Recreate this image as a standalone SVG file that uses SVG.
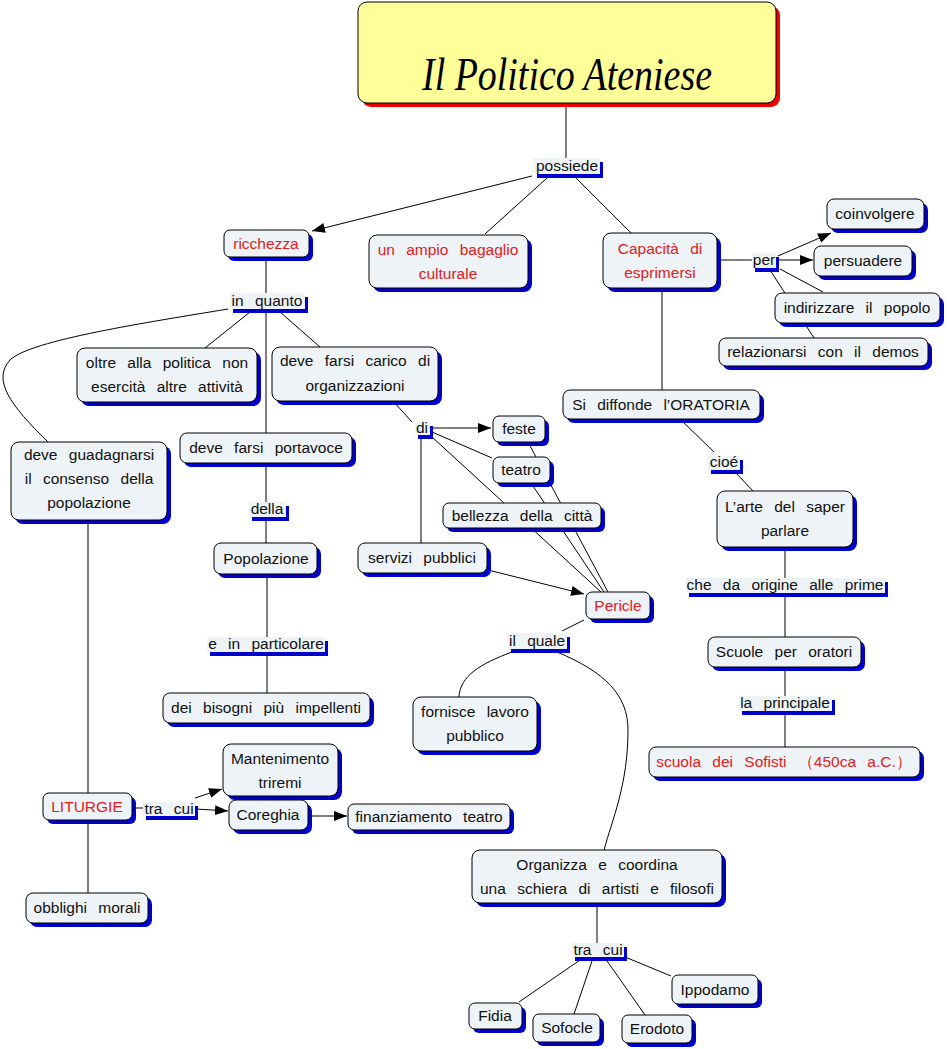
<svg xmlns="http://www.w3.org/2000/svg" width="947" height="1049" viewBox="0 0 947 1049">
<defs>
<marker id="arr" markerWidth="14" markerHeight="10" refX="13" refY="5" orient="auto" markerUnits="userSpaceOnUse">
<path d="M0,0 L13,5 L0,10 Z" fill="#000"/>
</marker>
<style>
.sh{fill:#0000cc}
.bx{fill:#edf3f6;stroke:#000;stroke-width:1}
.lb{fill:#eef3f6}
.t{font-family:"Liberation Sans",Arial,sans-serif;font-size:15.5px;word-spacing:7px;text-anchor:middle;fill:#111}
.r{fill:#e02020}
.c{fill:none;stroke:#000;stroke-width:1}
.a{marker-end:url(#arr)}
</style>
</defs>
<rect width="947" height="1049" fill="#fff"/>

<g id="connectors">
<path class="c" d="M566,103 V158"/>
<path class="c a" d="M532,176 L312,231"/>
<path class="c" d="M547,178 L485,234"/>
<path class="c" d="M576,178 L631,233"/>
<path class="c" d="M266,257 V293"/>
<path class="c" d="M250,312 L205,348"/>
<path class="c" d="M266,312 V433"/>
<path class="c" d="M280,312 L320,347"/>
<path class="c" d="M228,309 C150,322 30,340 10,360 C-8,380 10,405 48,442"/>
<path class="c" d="M393,401 L412,422"/>
<path class="c a" d="M430,428 L491,428"/>
<path class="c" d="M432,432 L492,458"/>
<path class="c" d="M432,437 L601,592"/>
<path class="c" d="M421,435 V543"/>
<path class="c" d="M528,442 L608,592"/>
<path class="c" d="M531,483 L604,592"/>
<path class="c a" d="M488,570 L584,594"/>
<path class="c" d="M266,463 V502"/>
<path class="c" d="M266,517 V543"/>
<path class="c" d="M267,574 V637"/>
<path class="c" d="M267,651 V693"/>
<path class="c" d="M88,520 V793"/>
<path class="c" d="M88,820 V893"/>
<path class="c" d="M132,808 H143"/>
<path class="c a" d="M195,798 L222,789"/>
<path class="c a" d="M196,809 L228,811"/>
<path class="c a" d="M308,816 L347,816"/>
<path class="c" d="M717,260 H753"/>
<path class="c a" d="M778,256 L831,233"/>
<path class="c a" d="M779,260 L813,260"/>
<path class="c" d="M780,269 L823,292"/>
<path class="c" d="M770,270 L814,338"/>
<path class="c" d="M662,288 V390"/>
<path class="c" d="M680,419 L714,452"/>
<path class="c" d="M735,472 L753,491"/>
<path class="c" d="M785,547 V578"/>
<path class="c" d="M785,595 V637"/>
<path class="c" d="M785,667 V696"/>
<path class="c" d="M785,712 V747"/>
<path class="c" d="M584,620 L562,631"/>
<path class="c" d="M512,652 C480,664 460,676 459,697"/>
<path class="c" d="M557,652 C605,672 628,695 628,730 C628,785 612,820 604,850"/>
<path class="c" d="M597,903 V943"/>
<path class="c" d="M583,958 L519,1002"/>
<path class="c" d="M593,958 L574,1014"/>
<path class="c" d="M605,958 L645,1015"/>
<path class="c" d="M625,957 L671,976"/>
</g>

<g id="title">
<rect x="362" y="6" width="418" height="101" rx="9" fill="#ee0000"/>
<rect x="358" y="2" width="418" height="101" rx="9" fill="#ffff99" stroke="#000" stroke-width="1"/>
<text x="567" y="90" font-family="'Liberation Serif','DejaVu Serif',serif" font-style="italic" font-size="46" text-anchor="middle" textLength="290" lengthAdjust="spacingAndGlyphs" fill="#000">Il Politico Ateniese</text>
</g>

<!-- linking phrases -->
<g id="lp-possiede"><rect class="sh" x="537" y="162" width="66" height="16"/><rect class="lb" x="534" y="158" width="66" height="16"/><text class="t" x="567" y="171">possiede</text></g>
<g id="lp-inquanto"><rect class="sh" x="233" y="297" width="75" height="16"/><rect class="lb" x="230" y="293" width="75" height="16"/><text class="t" x="267" y="306">in quanto</text></g>
<g id="lp-per"><rect class="sh" x="755" y="257" width="24" height="15"/><rect class="lb" x="752" y="253" width="24" height="15"/><text class="t" x="764" y="265">per</text></g>
<g id="lp-di"><rect class="sh" x="418" y="426" width="15" height="13"/><rect class="lb" x="415" y="422" width="15" height="13"/><text class="t" x="422" y="433">di</text></g>
<g id="lp-della"><rect class="sh" x="252" y="506" width="37" height="15"/><rect class="lb" x="249" y="502" width="37" height="15"/><text class="t" x="267" y="514">della</text></g>
<g id="lp-particolare"><rect class="sh" x="210" y="641" width="118" height="15"/><rect class="lb" x="207" y="637" width="118" height="15"/><text class="t" x="266" y="649">e in particolare</text></g>
<g id="lp-cioe"><rect class="sh" x="711" y="460" width="32" height="14"/><rect class="lb" x="708" y="456" width="32" height="14"/><text class="t" x="724" y="467">cioé</text></g>
<g id="lp-origine"><rect class="sh" x="689" y="582" width="199" height="15"/><rect class="lb" x="686" y="578" width="199" height="15"/><text class="t" x="785" y="590">che da origine alle prime</text></g>
<g id="lp-principale"><rect class="sh" x="742" y="700" width="93" height="15"/><rect class="lb" x="739" y="696" width="93" height="15"/><text class="t" x="785" y="708">la principale</text></g>
<g id="lp-ilquale"><rect class="sh" x="511" y="637" width="59" height="16"/><rect class="lb" x="508" y="633" width="59" height="16"/><text class="t" x="537" y="646">il quale</text></g>
<g id="lp-tracui1"><rect class="sh" x="146" y="806" width="52" height="14"/><rect class="lb" x="143" y="802" width="52" height="14"/><text class="t" x="169" y="814">tra cui</text></g>
<g id="lp-tracui2"><rect class="sh" x="575" y="947" width="52" height="14"/><rect class="lb" x="572" y="943" width="52" height="14"/><text class="t" x="598" y="955">tra cui</text></g>

<!-- concepts -->
<g id="ricchezza"><rect class="sh" x="228" y="234" width="85" height="27" rx="6"/><rect class="bx" x="224" y="230" width="85" height="27" rx="6"/><text class="t r" x="266" y="249">ricchezza</text></g>
<g id="bagaglio"><rect class="sh" x="373" y="239" width="159" height="53" rx="8"/><rect class="bx" x="369" y="235" width="159" height="53" rx="8"/><text class="t r" x="448" y="255">un ampio bagaglio</text><text class="t r" x="448" y="279">culturale</text></g>
<g id="capacita"><rect class="sh" x="607" y="237" width="114" height="55" rx="8"/><rect class="bx" x="603" y="233" width="114" height="55" rx="8"/><text class="t r" x="660" y="254">Capacità di</text><text class="t r" x="660" y="278">esprimersi</text></g>
<g id="coinvolgere"><rect class="sh" x="831" y="203" width="97" height="30" rx="7"/><rect class="bx" x="827" y="199" width="97" height="30" rx="7"/><text class="t" x="875" y="219">coinvolgere</text></g>
<g id="persuadere"><rect class="sh" x="818" y="250" width="98" height="30" rx="7"/><rect class="bx" x="814" y="246" width="98" height="30" rx="7"/><text class="t" x="863" y="266">persuadere</text></g>
<g id="indirizzare"><rect class="sh" x="779" y="297" width="165" height="30" rx="7"/><rect class="bx" x="775" y="293" width="165" height="30" rx="7"/><text class="t" x="857" y="313">indirizzare il popolo</text></g>
<g id="relazionarsi"><rect class="sh" x="723" y="342" width="209" height="28" rx="7"/><rect class="bx" x="719" y="338" width="209" height="28" rx="7"/><text class="t" x="823" y="357">relazionarsi con il demos</text></g>
<g id="oltre"><rect class="sh" x="81" y="352" width="180" height="54" rx="8"/><rect class="bx" x="77" y="348" width="180" height="54" rx="8"/><text class="t" x="167" y="368">oltre alla politica non</text><text class="t" x="167" y="392">esercità altre attività</text></g>
<g id="carico"><rect class="sh" x="276" y="351" width="166" height="54" rx="8"/><rect class="bx" x="272" y="347" width="166" height="54" rx="8"/><text class="t" x="355" y="366">deve farsi carico di</text><text class="t" x="355" y="391">organizzazioni</text></g>
<g id="guadagnarsi"><rect class="sh" x="15" y="446" width="156" height="78" rx="8"/><rect class="bx" x="11" y="442" width="156" height="78" rx="8"/><text class="t" x="89" y="460">deve guadagnarsi</text><text class="t" x="89" y="484">il consenso della</text><text class="t" x="89" y="508">popolazione</text></g>
<g id="portavoce"><rect class="sh" x="184" y="437" width="172" height="30" rx="7"/><rect class="bx" x="180" y="433" width="172" height="30" rx="7"/><text class="t" x="266" y="453">deve farsi portavoce</text></g>
<g id="popolazione"><rect class="sh" x="218" y="547" width="103" height="31" rx="7"/><rect class="bx" x="214" y="543" width="103" height="31" rx="7"/><text class="t" x="266" y="564">Popolazione</text></g>
<g id="bisogni"><rect class="sh" x="167" y="697" width="207" height="30" rx="7"/><rect class="bx" x="163" y="693" width="207" height="30" rx="7"/><text class="t" x="266" y="713">dei bisogni più impellenti</text></g>
<g id="feste"><rect class="sh" x="497" y="420" width="52" height="26" rx="6"/><rect class="bx" x="493" y="416" width="52" height="26" rx="6"/><text class="t" x="519" y="434">feste</text></g>
<g id="teatro"><rect class="sh" x="497" y="461" width="57" height="26" rx="6"/><rect class="bx" x="493" y="457" width="57" height="26" rx="6"/><text class="t" x="521" y="475">teatro</text></g>
<g id="bellezza"><rect class="sh" x="447" y="507" width="158" height="25" rx="6"/><rect class="bx" x="443" y="503" width="158" height="25" rx="6"/><text class="t" x="522" y="521">bellezza della città</text></g>
<g id="servizi"><rect class="sh" x="362" y="547" width="129" height="30" rx="7"/><rect class="bx" x="358" y="543" width="129" height="30" rx="7"/><text class="t" x="422" y="563">servizi pubblici</text></g>
<g id="pericle"><rect class="sh" x="590" y="596" width="64" height="27" rx="6"/><rect class="bx" x="586" y="592" width="64" height="27" rx="6"/><text class="t r" x="618" y="611">Pericle</text></g>
<g id="oratoria"><rect class="sh" x="567" y="394" width="197" height="29" rx="7"/><rect class="bx" x="563" y="390" width="197" height="29" rx="7"/><text class="t" x="661" y="410">Si diffonde l’ORATORIA</text></g>
<g id="arte"><rect class="sh" x="721" y="495" width="136" height="56" rx="8"/><rect class="bx" x="717" y="491" width="136" height="56" rx="8"/><text class="t" x="785" y="512">L’arte del saper</text><text class="t" x="785" y="536">parlare</text></g>
<g id="scuole"><rect class="sh" x="712" y="641" width="153" height="30" rx="7"/><rect class="bx" x="708" y="637" width="153" height="30" rx="7"/><text class="t" x="784" y="657">Scuole per oratori</text></g>
<g id="sofisti"><rect class="sh" x="653" y="751" width="271" height="30" rx="7"/><rect class="bx" x="649" y="747" width="271" height="30" rx="7"/><text class="t r" x="784" y="767" font-family="'Liberation Sans','Noto Sans CJK SC',sans-serif">scuola dei Sofisti （450ca a.C.）</text></g>
<g id="fornisce"><rect class="sh" x="417" y="701" width="124" height="54" rx="8"/><rect class="bx" x="413" y="697" width="124" height="54" rx="8"/><text class="t" x="475" y="717">fornisce lavoro</text><text class="t" x="475" y="741">pubblico</text></g>
<g id="organizza"><rect class="sh" x="476" y="854" width="250" height="53" rx="8"/><rect class="bx" x="472" y="850" width="250" height="53" rx="8"/><text class="t" x="597" y="870">Organizza e coordina</text><text class="t" x="597" y="894">una schiera di artisti e filosofi</text></g>
<g id="fidia"><rect class="sh" x="473" y="1007" width="53" height="26" rx="6"/><rect class="bx" x="469" y="1003" width="53" height="26" rx="6"/><text class="t" x="495" y="1021">Fidia</text></g>
<g id="sofocle"><rect class="sh" x="537" y="1018" width="67" height="28" rx="6"/><rect class="bx" x="533" y="1014" width="67" height="28" rx="6"/><text class="t" x="567" y="1033">Sofocle</text></g>
<g id="erodoto"><rect class="sh" x="626" y="1019" width="70" height="28" rx="6"/><rect class="bx" x="622" y="1015" width="70" height="28" rx="6"/><text class="t" x="657" y="1034">Erodoto</text></g>
<g id="ippodamo"><rect class="sh" x="676" y="979" width="86" height="29" rx="6"/><rect class="bx" x="672" y="975" width="86" height="29" rx="6"/><text class="t" x="715" y="995">Ippodamo</text></g>
<g id="liturgie"><rect class="sh" x="47" y="797" width="89" height="27" rx="6"/><rect class="bx" x="43" y="793" width="89" height="27" rx="6"/><text class="t r" x="87" y="812">LITURGIE</text></g>
<g id="mantenimento"><rect class="sh" x="227" y="748" width="115" height="52" rx="8"/><rect class="bx" x="223" y="744" width="115" height="52" rx="8"/><text class="t" x="280" y="764">Mantenimento</text><text class="t" x="280" y="788">triremi</text></g>
<g id="coreghia"><rect class="sh" x="233" y="804" width="79" height="30" rx="7"/><rect class="bx" x="229" y="800" width="79" height="30" rx="7"/><text class="t" x="268" y="820">Coreghia</text></g>
<g id="finanziamento"><rect class="sh" x="352" y="808" width="162" height="26" rx="6"/><rect class="bx" x="348" y="804" width="162" height="26" rx="6"/><text class="t" x="429" y="822">finanziamento teatro</text></g>
<g id="obblighi"><rect class="sh" x="30" y="897" width="122" height="30" rx="7"/><rect class="bx" x="26" y="893" width="122" height="30" rx="7"/><text class="t" x="87" y="913">obblighi morali</text></g>
</svg>
